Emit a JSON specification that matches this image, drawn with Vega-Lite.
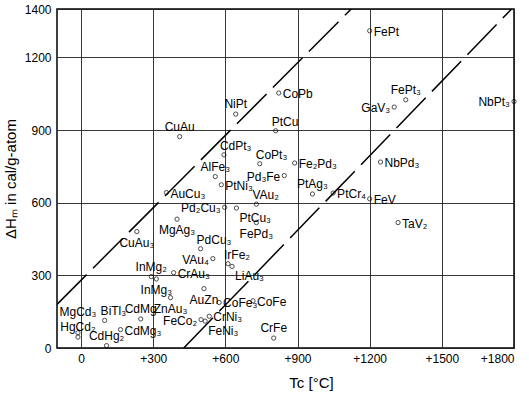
{
  "$schema": "https://vega.github.io/schema/vega-lite/v6.json",
  "autosize": "none",
  "width": 457,
  "height": 339,
  "padding": {"left": 57, "top": 9, "right": 15, "bottom": 47},
  "background": "white",
  "config": {
    "view": {"stroke": "black", "strokeWidth": 1.5},
    "font": "Liberation Sans",
    "text": {"font": "Liberation Sans", "fontSize": 12, "color": "black"}
  },
  "datasets": {
    "pts": [
      {"name": "FePt", "T": 1200, "H": 1310, "side": "r"},
      {"name": "CoPb", "T": 822, "H": 1053, "side": "r"},
      {"name": "NiPt", "T": 643, "H": 966, "side": "a"},
      {"name": "CuAu", "T": 410, "H": 873, "side": "a"},
      {"name": "PtCu", "T": 809, "H": 897, "side": "ar"},
      {"name": "FePt₃", "T": 1350, "H": 1025, "side": "a"},
      {"name": "GaV₃", "T": 1302, "H": 995, "side": "l"},
      {"name": "NbPt₃", "T": 1800, "H": 1018, "side": "l"},
      {"name": "NbPd₃", "T": 1245, "H": 768, "side": "r"},
      {"name": "Fe₂Pd₃", "T": 888, "H": 764, "side": "r"},
      {"name": "PtAg₃", "T": 962, "H": 636, "side": "a"},
      {"name": "PtCr₄", "T": 1048, "H": 640, "side": "r"},
      {"name": "FeV", "T": 1200, "H": 616, "side": "r"},
      {"name": "TaV₂", "T": 1318, "H": 518, "side": "r"},
      {"name": "CdPt₃", "T": 594, "H": 798, "side": "ar"},
      {"name": "CoPt₃", "T": 743, "H": 761, "side": "ar"},
      {"name": "AlFe₃", "T": 558, "H": 708, "side": "a"},
      {"name": "PtNi₃", "T": 583, "H": 674, "side": "r"},
      {"name": "Pd₃Fe", "T": 845, "H": 712, "side": "l"},
      {"name": "VAu₂", "T": 729, "H": 594, "side": "ar"},
      {"name": "AuCu₃", "T": 355, "H": 642, "side": "r"},
      {"name": "Pd₂Cu₃", "T": 597, "H": 581, "side": "l"},
      {"name": "PtCu₃", "T": 646, "H": 578, "side": "br"},
      {"name": "FePd₃", "T": 729, "H": 518, "side": "b"},
      {"name": "MgAg₃", "T": 399, "H": 532, "side": "b"},
      {"name": "CuAu₃", "T": 232, "H": 481, "side": "b"},
      {"name": "PdCu₃", "T": 497, "H": 410, "side": "ar"},
      {"name": "VAu₄", "T": 548, "H": 369, "side": "l"},
      {"name": "IrFe₂", "T": 611, "H": 348, "side": "ar"},
      {"name": "LiAu₃", "T": 628, "H": 337, "side": "br"},
      {"name": "InMg₂", "T": 292, "H": 295, "side": "a"},
      {"name": "InMg₃", "T": 313, "H": 285, "side": "b"},
      {"name": "CrAu₃", "T": 385, "H": 311, "side": "r"},
      {"name": "ZnAu₃", "T": 372, "H": 208, "side": "b"},
      {"name": "AuZn", "T": 511, "H": 245, "side": "b"},
      {"name": "CoFe₃", "T": 574, "H": 188, "side": "r"},
      {"name": "CoFe", "T": 715, "H": 195, "side": "r"},
      {"name": "CrFe", "T": 801, "H": 41, "side": "a"},
      {"name": "CrNi₃", "T": 533, "H": 131, "side": "r"},
      {"name": "FeCo₂", "T": 499, "H": 117, "side": "l"},
      {"name": "FeNi₃", "T": 516, "H": 111, "side": "br"},
      {"name": "BiTl₃", "T": 98, "H": 114, "side": "ar"},
      {"name": "CdMg", "T": 248, "H": 120, "side": "a"},
      {"name": "CdMg₃", "T": 164, "H": 76, "side": "r"},
      {"name": "MgCd₃", "T": -13, "H": 63, "side": "a2"},
      {"name": "HgCd₂", "T": -13, "H": 45, "side": "a"},
      {"name": "CdHg₂", "T": 106, "H": 10, "side": "a"}
    ],
    "lines": [
      {"line": "A", "T": -100, "H": 180},
      {"line": "A", "T": 1123, "H": 1400},
      {"line": "B", "T": 427, "H": 0},
      {"line": "B", "T": 1790, "H": 1400}
    ]
  },
  "encoding": {
    "x": {
      "field": "T", "type": "quantitative",
      "scale": {"domain": [-100, 1800], "nice": false, "zero": false},
      "axis": {
        "values": [0, 300, 600, 900, 1200, 1500, 1800],
        "labelExpr": "datum.value > 0 ? '+' + datum.value : '' + datum.value",
        "title": "Tc  [°C]",
        "titleFontSize": 15, "titleFontWeight": "normal", "titleFont": "Liberation Sans",
        "titleX": 254, "titleY": 34, "titleAnchor": "middle", "titleBaseline": "middle",
        "labelFontSize": 12, "labelFont": "Liberation Sans", "labelColor": "black",
        "labelPadding": 5, "ticks": false, "domain": false,
        "grid": true, "gridColor": "#222", "gridWidth": 0.9, "gridOpacity": 1
      }
    },
    "y": {
      "field": "H", "type": "quantitative",
      "scale": {"domain": [0, 1400], "nice": false},
      "axis": {
        "values": [0, 300, 600, 900, 1200, 1400],
        "labelExpr": "'' + datum.value",
        "title": "ΔHₘ in cal/g-atom",
        "titleFontSize": 15, "titleFontWeight": "normal", "titleFont": "Liberation Sans",
        "titlePadding": 6,
        "labelFontSize": 12, "labelFont": "Liberation Sans", "labelColor": "black",
        "labelPadding": 6, "ticks": false, "domain": false,
        "grid": true, "gridColor": "#222", "gridWidth": 0.9, "gridOpacity": 1
      }
    }
  },
  "layer": [
    {
      "data": {"name": "lines"},
      "mark": {"type": "line", "color": "black", "strokeWidth": 1.5, "strokeDash": [42, 9], "clip": true},
      "encoding": {"detail": {"field": "line", "type": "nominal"}}
    },
    {
      "data": {"name": "pts"},
      "mark": {"type": "point", "shape": "circle", "size": 18, "stroke": "black", "strokeWidth": 1, "filled": false, "clip": false},
      "encoding": {}
    },
    {
      "data": {"name": "pts"},
      "transform": [{"filter": "datum.side == 'r'"}],
      "mark": {"type": "text", "align": "left", "baseline": "middle", "dx": 4, "dy": 1},
      "encoding": {"text": {"field": "name"}}
    },
    {
      "data": {"name": "pts"},
      "transform": [{"filter": "datum.side == 'l'"}],
      "mark": {"type": "text", "align": "right", "baseline": "middle", "dx": -4, "dy": 1},
      "encoding": {"text": {"field": "name"}}
    },
    {
      "data": {"name": "pts"},
      "transform": [{"filter": "datum.side == 'a'"}],
      "mark": {"type": "text", "align": "center", "baseline": "middle", "dy": -10},
      "encoding": {"text": {"field": "name"}}
    },
    {
      "data": {"name": "pts"},
      "transform": [{"filter": "datum.side == 'a2'"}],
      "mark": {"type": "text", "align": "center", "baseline": "middle", "dy": -21},
      "encoding": {"text": {"field": "name"}}
    },
    {
      "data": {"name": "pts"},
      "transform": [{"filter": "datum.side == 'ar'"}],
      "mark": {"type": "text", "align": "left", "baseline": "middle", "dx": -4, "dy": -9},
      "encoding": {"text": {"field": "name"}}
    },
    {
      "data": {"name": "pts"},
      "transform": [{"filter": "datum.side == 'b'"}],
      "mark": {"type": "text", "align": "center", "baseline": "middle", "dy": 11},
      "encoding": {"text": {"field": "name"}}
    },
    {
      "data": {"name": "pts"},
      "transform": [{"filter": "datum.side == 'br'"}],
      "mark": {"type": "text", "align": "left", "baseline": "middle", "dx": 3, "dy": 10},
      "encoding": {"text": {"field": "name"}}
    }
  ]
}
